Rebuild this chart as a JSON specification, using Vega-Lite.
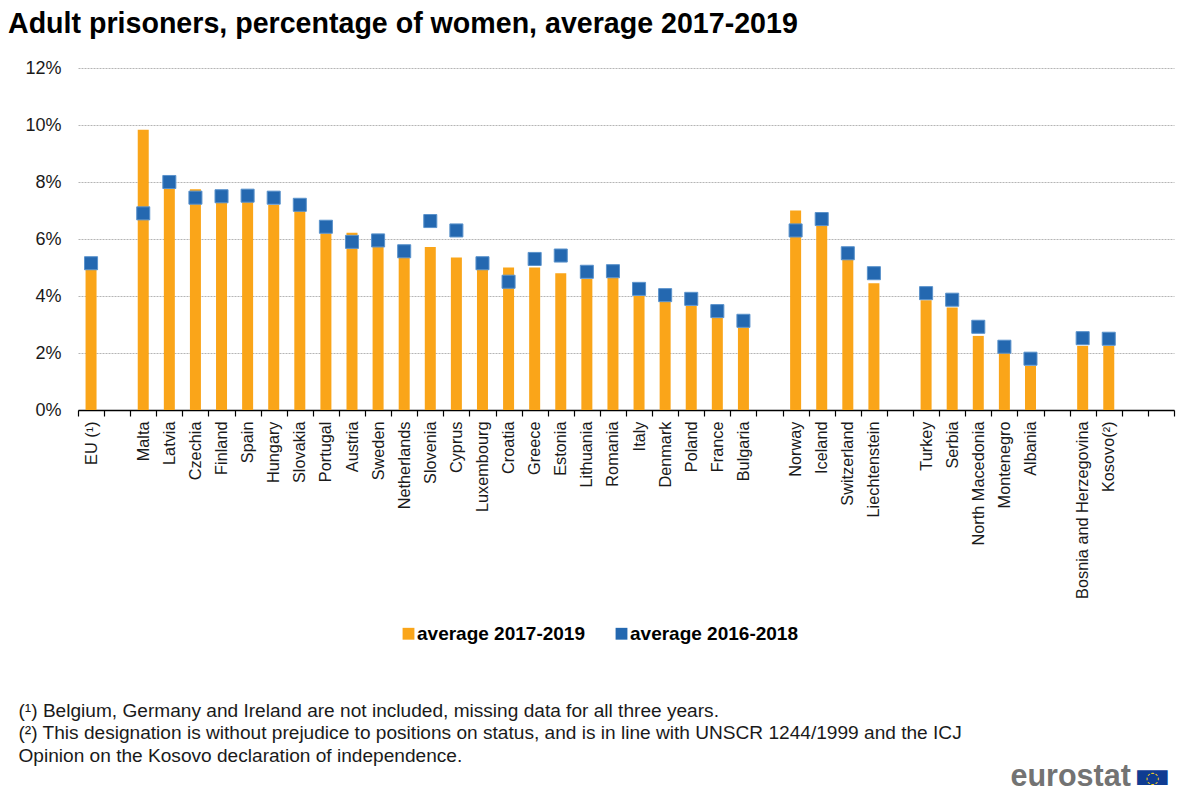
{
"$schema":"https://vega.github.io/schema/vega-lite/v6.json",
"width":1096,"height":342,
"autosize":{"type":"none"},
"padding":{"left":78,"top":68,"right":14,"bottom":386},
"background":"white",
"title":{"text":"Adult prisoners, percentage of women, average 2017-2019","anchor":"start","frame":"group","dx":-70,"dy":18,"fontSize":28.6,"font":"Liberation Sans","fontWeight":"bold","color":"#000000","baseline":"alphabetic","offset":15},
"config":{"font":"Liberation Sans","view":{"stroke":null}},
"datasets":{
"recent":[
{"country":"EU (¹)","series":"average 2017-2019","value":5.0},
{"country":"Malta","series":"average 2017-2019","value":9.83},
{"country":"Latvia","series":"average 2017-2019","value":7.8},
{"country":"Czechia","series":"average 2017-2019","value":7.75},
{"country":"Finland","series":"average 2017-2019","value":7.3},
{"country":"Spain","series":"average 2017-2019","value":7.35},
{"country":"Hungary","series":"average 2017-2019","value":7.2},
{"country":"Slovakia","series":"average 2017-2019","value":7.0},
{"country":"Portugal","series":"average 2017-2019","value":6.2},
{"country":"Austria","series":"average 2017-2019","value":6.22},
{"country":"Sweden","series":"average 2017-2019","value":5.75},
{"country":"Netherlands","series":"average 2017-2019","value":5.4},
{"country":"Slovenia","series":"average 2017-2019","value":5.72},
{"country":"Cyprus","series":"average 2017-2019","value":5.35},
{"country":"Luxembourg","series":"average 2017-2019","value":4.95},
{"country":"Croatia","series":"average 2017-2019","value":5.0},
{"country":"Greece","series":"average 2017-2019","value":5.0},
{"country":"Estonia","series":"average 2017-2019","value":4.8},
{"country":"Lithuania","series":"average 2017-2019","value":4.6},
{"country":"Romania","series":"average 2017-2019","value":4.65},
{"country":"Italy","series":"average 2017-2019","value":4.0},
{"country":"Denmark","series":"average 2017-2019","value":3.8},
{"country":"Poland","series":"average 2017-2019","value":3.65},
{"country":"France","series":"average 2017-2019","value":3.25},
{"country":"Bulgaria","series":"average 2017-2019","value":2.9},
{"country":"Norway","series":"average 2017-2019","value":7.0},
{"country":"Iceland","series":"average 2017-2019","value":6.95},
{"country":"Switzerland","series":"average 2017-2019","value":5.3},
{"country":"Liechtenstein","series":"average 2017-2019","value":4.45},
{"country":"Turkey","series":"average 2017-2019","value":3.85},
{"country":"Serbia","series":"average 2017-2019","value":3.6},
{"country":"North Macedonia","series":"average 2017-2019","value":2.6},
{"country":"Montenegro","series":"average 2017-2019","value":2.0},
{"country":"Albania","series":"average 2017-2019","value":1.55},
{"country":"Bosnia and Herzegovina","series":"average 2017-2019","value":2.25},
{"country":"Kosovo(²)","series":"average 2017-2019","value":2.25}
],
"previous":[
{"country":"EU (¹)","series":"average 2016-2018","value":5.15},
{"country":"Malta","series":"average 2016-2018","value":6.9},
{"country":"Latvia","series":"average 2016-2018","value":8.0},
{"country":"Czechia","series":"average 2016-2018","value":7.45},
{"country":"Finland","series":"average 2016-2018","value":7.5},
{"country":"Spain","series":"average 2016-2018","value":7.52},
{"country":"Hungary","series":"average 2016-2018","value":7.45},
{"country":"Slovakia","series":"average 2016-2018","value":7.2},
{"country":"Portugal","series":"average 2016-2018","value":6.43},
{"country":"Austria","series":"average 2016-2018","value":5.9},
{"country":"Sweden","series":"average 2016-2018","value":5.95},
{"country":"Netherlands","series":"average 2016-2018","value":5.57},
{"country":"Slovenia","series":"average 2016-2018","value":6.63},
{"country":"Cyprus","series":"average 2016-2018","value":6.3},
{"country":"Luxembourg","series":"average 2016-2018","value":5.15},
{"country":"Croatia","series":"average 2016-2018","value":4.5},
{"country":"Greece","series":"average 2016-2018","value":5.3},
{"country":"Estonia","series":"average 2016-2018","value":5.42},
{"country":"Lithuania","series":"average 2016-2018","value":4.85},
{"country":"Romania","series":"average 2016-2018","value":4.87},
{"country":"Italy","series":"average 2016-2018","value":4.25},
{"country":"Denmark","series":"average 2016-2018","value":4.03},
{"country":"Poland","series":"average 2016-2018","value":3.9},
{"country":"France","series":"average 2016-2018","value":3.47},
{"country":"Bulgaria","series":"average 2016-2018","value":3.13},
{"country":"Norway","series":"average 2016-2018","value":6.3},
{"country":"Iceland","series":"average 2016-2018","value":6.7},
{"country":"Switzerland","series":"average 2016-2018","value":5.5},
{"country":"Liechtenstein","series":"average 2016-2018","value":4.8},
{"country":"Turkey","series":"average 2016-2018","value":4.1},
{"country":"Serbia","series":"average 2016-2018","value":3.87},
{"country":"North Macedonia","series":"average 2016-2018","value":2.92},
{"country":"Montenegro","series":"average 2016-2018","value":2.22},
{"country":"Albania","series":"average 2016-2018","value":1.8},
{"country":"Bosnia and Herzegovina","series":"average 2016-2018","value":2.52},
{"country":"Kosovo(²)","series":"average 2016-2018","value":2.5}
]
},
"layer":[
{"data":{"name":"recent"},
 "mark":{"type":"bar","size":11},
 "encoding":{
  "x":{"field":"country","type":"nominal","sort":null,
   "scale":{"domain":["EU (¹)"," ","Malta","Latvia","Czechia","Finland","Spain","Hungary","Slovakia","Portugal","Austria","Sweden","Netherlands","Slovenia","Cyprus","Luxembourg","Croatia","Greece","Estonia","Lithuania","Romania","Italy","Denmark","Poland","France","Bulgaria","  ","Norway","Iceland","Switzerland","Liechtenstein","   ","Turkey","Serbia","North Macedonia","Montenegro","Albania","    ","Bosnia and Herzegovina","Kosovo(²)","     ","      "],"paddingInner":0,"paddingOuter":0},
   "axis":{"orient":"bottom","labelAngle":-90,"labelAlign":"right","labelBaseline":"middle","labelFontSize":16.3,"labelColor":"#1a1a1a","labelPadding":5,"labelOverlap":false,"labelLimit":300,"tickBand":"extent","tickColor":"#000000","tickSize":6,"tickWidth":1.2,"domainColor":"#000000","domainWidth":1.5,"grid":false,
    "title":["(¹) Belgium, Germany and Ireland are not included, missing data for all three years.","(²) This designation is without prejudice to positions on status, and is in line with UNSCR 1244/1999 and the ICJ","Opinion on the Kosovo declaration of independence."],
    "titleX":-60,"titleY":306,"titleAlign":"left","titleAnchor":null,"titleBaseline":"alphabetic","titleFontSize":19.1,"titleFontWeight":"normal","titleColor":"#1a1a1a","titleLineHeight":22.5}},
  "y":{"field":"value","type":"quantitative","scale":{"domain":[0,12],"nice":false},
   "axis":{"orient":"left","values":[0,2,4,6,8,10,12],"labelExpr":"datum.value + '%'","labelFontSize":18,"labelColor":"#1a1a1a","labelPadding":17,"ticks":false,"domain":false,"grid":true,"gridColor":"#b5b5b5","gridDash":[2,1],"gridWidth":1,
    "title":"eurostat","titleAngle":0,"titleX":932,"titleY":717,"titleAlign":"left","titleBaseline":"alphabetic","titleFont":"Liberation Sans","titleFontSize":30.5,"titleFontWeight":"bold","titleColor":"#737373"}},
  "color":{"field":"series","type":"nominal","scale":{"domain":["average 2017-2019","average 2016-2018"],"range":["#FAA519","#2468B0"]},
   "legend":{"orient":"none","legendX":321,"legendY":556,"direction":"horizontal","title":null,"symbolType":"square","symbolSize":140,"symbolStrokeWidth":0,"labelFontSize":19,"labelFontWeight":"bold","labelColor":"#000000","labelOffset":-1,"columnPadding":27,"labelLimit":300}}
 }},
{"data":{"name":"previous"},
 "mark":{"type":"square","size":170,"opacity":1,"filled":true,"stroke":"#5b93cc","strokeWidth":1},
 "encoding":{
  "x":{"field":"country","type":"nominal","sort":null,
   "axis":{"orient":"top","labels":false,"ticks":false,"domain":false,"grid":false,"title":"▬","titleX":1074,"titleY":707,"titleAlign":"center","titleBaseline":"middle","titleFont":"DejaVu Sans","titleFontSize":40,"titleFontWeight":"normal","titleColor":"#0F3C92"}},
  "y":{"field":"value","type":"quantitative","scale":{"domain":[0,12],"nice":false},
   "axis":{"orient":"right","labels":false,"ticks":false,"domain":false,"grid":false,"title":"◌","titleAngle":0,"titleX":-22,"titleY":709,"titleAlign":"center","titleBaseline":"middle","titleFont":"DejaVu Sans","titleFontSize":16,"titleFontWeight":"normal","titleColor":"#FFD617"}},
  "color":{"field":"series","type":"nominal"}
 }}
],
"resolve":{"axis":{"x":"independent","y":"independent"}}
}
